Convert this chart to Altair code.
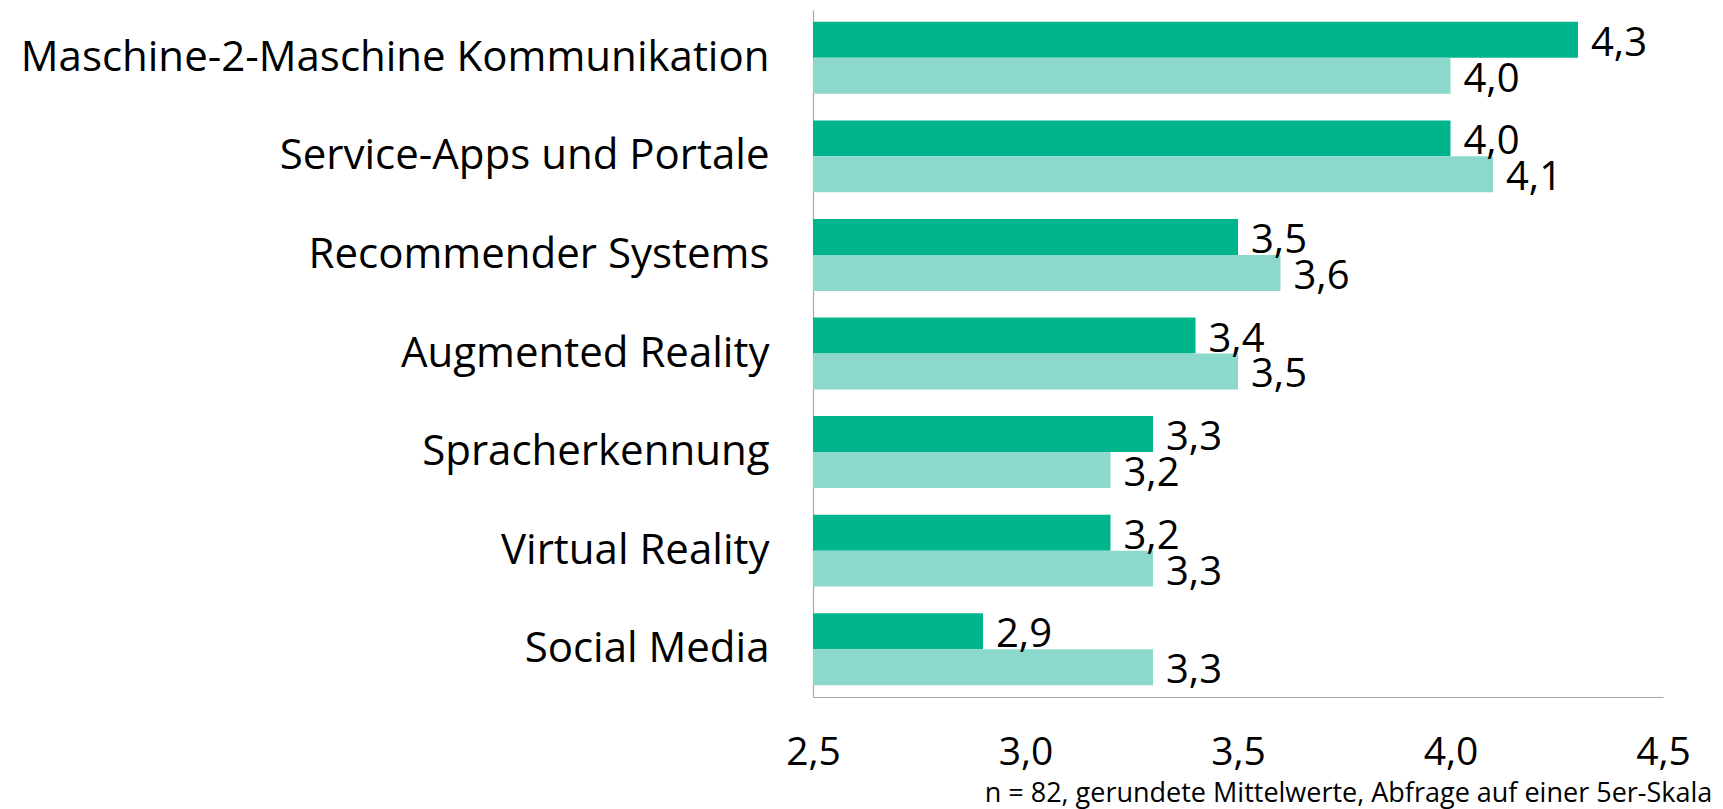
import altair as alt
import pandas as pd

categories = [
    "Maschine-2-Maschine Kommunikation",
    "Service-Apps und Portale",
    "Recommender Systems",
    "Augmented Reality",
    "Spracherkennung",
    "Virtual Reality",
    "Social Media",
]
series_names = ["Reihe 1", "Reihe 2"]
series_1 = [4.3, 4.0, 3.5, 3.4, 3.3, 3.2, 2.9]
series_2 = [4.0, 4.1, 3.6, 3.5, 3.2, 3.3, 3.3]
colors = ["#00B48C", "#8DD8CC"]
x_ticks = [2.5, 3.0, 3.5, 4.0, 4.5]
note = "n = 82, gerundete Mittelwerte, Abfrage auf einer 5er-Skala"

rows = []
for name, vals in zip(series_names, [series_1, series_2]):
    for c, v in zip(categories, vals):
        rows.append({"Kategorie": c, "Reihe": name, "Wert": v, "Basis": 2.5,
                     "Label": f"{v:.1f}".replace(".", ",")})
df = pd.DataFrame(rows)

FONT = "Open Sans"

y_enc = alt.Y("Kategorie:N", sort=categories, title=None,
              scale=alt.Scale(paddingInner=0.27, paddingOuter=0.12),
              axis=alt.Axis(labelFontSize=42, labelFont=FONT, labelColor="#000000",
                            labelPadding=44, labelLimit=1000, ticks=False,
                            domainColor="#A6A6A6", domainWidth=1.2))
x_scale = alt.Scale(domain=[2.5, 4.5], zero=False, nice=False)

bars = alt.Chart(df).mark_bar().encode(
    y=y_enc,
    yOffset=alt.YOffset("Reihe:N", sort=series_names, scale=alt.Scale(paddingInner=0, paddingOuter=0)),
    x=alt.X("Wert:Q", scale=x_scale, title=None,
            axis=alt.Axis(values=x_ticks, labelFontSize=39, labelFont=FONT, labelColor="#000000",
                          labelPadding=36, labelFlush=False, ticks=False, grid=False,
                          domainColor="#A6A6A6", domainWidth=1.2,
                          labelExpr="replace(format(datum.value, '.1f'), '.', ',')")),
    x2="Basis:Q",
    color=alt.Color("Reihe:N", scale=alt.Scale(domain=series_names, range=colors), legend=None),
)

labels = alt.Chart(df).mark_text(align="left", baseline="middle", dx=13, dy=4,
                                 fontSize=40, font=FONT, color="#000000").encode(
    y=alt.Y("Kategorie:N", sort=categories),
    yOffset=alt.YOffset("Reihe:N", sort=series_names),
    x=alt.X("Wert:Q", scale=x_scale),
    text="Label:N",
)

chart = (bars + labels).properties(
    width=850, height=687,
    background="white",
    autosize=alt.AutoSizeParams(type="none"),
    padding={"left": 813, "top": 10, "right": 60, "bottom": 112},
    title=alt.TitleParams(text=note, orient="bottom", anchor="end", fontSize=27,
                          font=FONT, fontWeight="normal", color="#000000",
                          dx=22, offset=9),
).configure_view(stroke=None)

chart.save("out.html", embed_options={"renderer": "svg", "actions": False})
